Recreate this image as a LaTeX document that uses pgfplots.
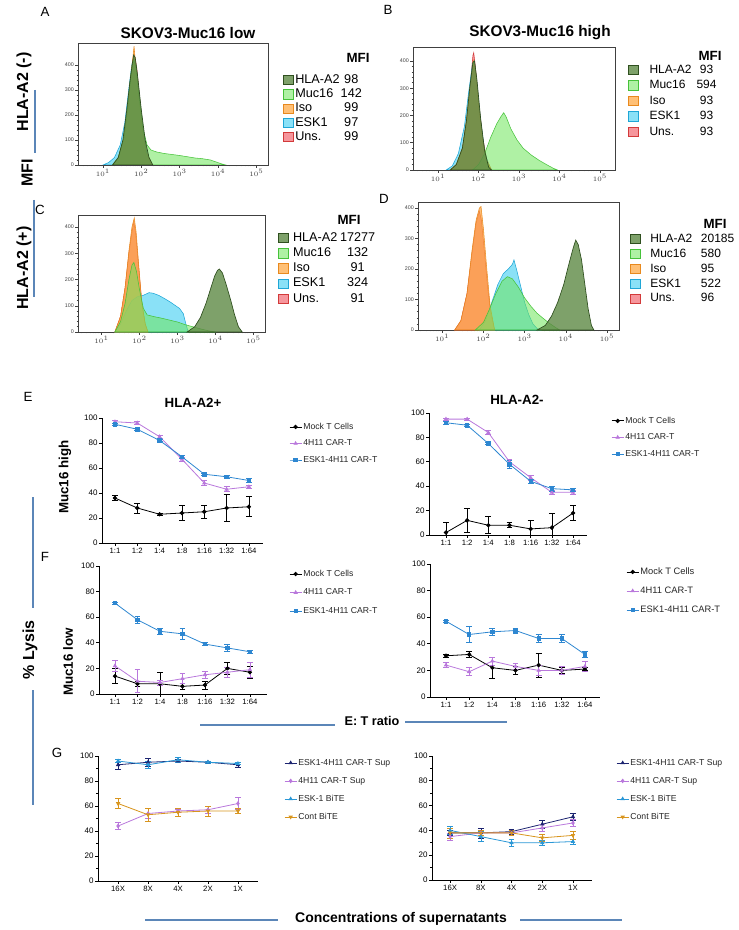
\documentclass[border=0pt]{standalone}
\usepackage{fontspec}
\setmainfont{Liberation Sans}
\usepackage{pgfplots}
\pgfplotsset{compat=1.18}
\definecolor{hgreen}{HTML}{5E8A45}
\definecolor{hgreenD}{HTML}{2F4F1F}
\definecolor{mgreen}{HTML}{6EE65A}
\definecolor{mgreenD}{HTML}{46C23A}
\definecolor{isoO}{HTML}{FFA53C}
\definecolor{isoD}{HTML}{E8891E}
\definecolor{eskC}{HTML}{3CCDF2}
\definecolor{eskD}{HTML}{1FA6D6}
\definecolor{unsR}{HTML}{F0505A}
\definecolor{unsD}{HTML}{D23A3A}
\definecolor{cPur}{HTML}{B978DC}
\definecolor{cBlu}{HTML}{2E87D1}
\definecolor{cNavy}{HTML}{1C2470}
\definecolor{cLBlu}{HTML}{2A97D6}
\definecolor{cOra}{HTML}{D8951E}
\definecolor{lineBlue}{HTML}{5B86B8}
\pgfplotsset{
  hist/.style={scale only axis, anchor=south west, ymin=0, tick align=outside, tick pos=left,
    xtick={1,2,3,4,5}, xticklabels={$10^{1}$,$10^{2}$,$10^{3}$,$10^{4}$,$10^{5}$},
    minor xtick={0.477,0.602,0.699,0.778,0.845,0.903,0.954,1.301,1.477,1.602,1.699,1.778,1.845,1.903,1.954,2.301,2.477,2.602,2.699,2.778,2.845,2.903,2.954,3.301,3.477,3.602,3.699,3.778,3.845,3.903,3.954,4.301,4.477,4.602,4.699,4.778,4.845,4.903,4.954},
    ytick={0,100,200,300,400}, minor y tick num=4,
    major tick length=2pt, minor tick length=1.1pt, tick style={black!75, line width=0.4pt},
    axis line style={black!75, line width=0.5pt},
    ticklabel style={font=\fontsize{4}{4}\selectfont, text=black!75, inner sep=1pt},
    /pgf/number format/assume math mode=true,
    legend cell align=left,
    legend image code/.code={\draw[##1] (0pt,-3.5pt) rectangle (7pt,3.5pt);},
    legend style={draw=none, fill=none, anchor=north west, inner sep=0pt, font=\fontsize{9.5}{10}\selectfont, nodes={inner sep=0.5pt, text height=7pt, text depth=2pt}},
    reverse legend},
  hHLA/.style={fill=hgreen, fill opacity=0.8, draw=hgreenD, line width=0.5pt},
  hMuc/.style={fill=mgreen, fill opacity=0.55, draw=mgreenD, line width=0.4pt},
  hIso/.style={fill=isoO, fill opacity=0.7, draw=isoD, line width=0.4pt},
  hEsk/.style={fill=eskC, fill opacity=0.6, draw=eskD, line width=0.4pt},
  hUns/.style={fill=unsR, fill opacity=0.6, draw=unsD, line width=0.4pt},
  lc/.style={scale only axis, anchor=south west, axis lines*=left, ymin=0, ymax=100, ytick={0,20,40,60,80,100},
    axis line style={line width=0.6pt, black}, tick align=outside, major tick length=2.2pt, minor tick length=1.3pt,
    tick style={black, line width=0.5pt},
    /pgf/number format/assume math mode=true,
    yticklabel style={font=\fontsize{6}{6}\selectfont, inner sep=1pt},
    xticklabel style={font=\fontsize{5.8}{6}\selectfont, inner sep=1.5pt},
    legend cell align=left,
    legend image code/.code={\draw[mark repeat=2,mark phase=2,##1] plot coordinates {(0pt,0pt) (4.5pt,0pt) (9pt,0pt)};},
    legend style={draw=none, fill=none, anchor=north west, inner sep=0pt, font=\fontsize{6.5}{7}\selectfont, nodes={inner sep=1pt, text height=5pt, text depth=1.5pt, text=black!85}},
    clip=false},
  ser/.style={color=#1, line width=0.6pt, mark size=1.3pt, mark options={solid, fill=#1},
    /pgfplots/error bars/y dir=both, /pgfplots/error bars/y explicit,
    /pgfplots/error bars/error bar style={line width=0.5pt, color=#1},
    /pgfplots/error bars/error mark options={rotate=90, mark size=2.2pt, line width=0.5pt, color=#1}},
}
\begin{document}
\begin{tikzpicture}
\path[use as bounding box] (0,0) rectangle (553.5pt,-697.5pt);
% ---------------- A ----------------
\begin{axis}[hist, at={({78*0.75pt},{-165*0.75pt})}, width=142.5pt, height=91.5pt, xmin=0.35, xmax=5.3, ymax=488,
  legend style={at={(1.079,0.754)}, column sep=1pt, row sep=0.7pt}]
\addplot[hUns] coordinates {(1.25,0)(1.4,30)(1.55,110)(1.65,230)(1.72,340)(1.78,420)(1.82,440)(1.88,390)(1.96,260)(2.05,130)(2.15,45)(2.28,0)} \closedcycle;
\addlegendentry{\makebox[34pt][l]{Uns.}\makebox[16pt][c]{99}}
\addplot[hEsk] coordinates {(1.0,0)(1.15,10)(1.3,30)(1.45,80)(1.57,170)(1.67,300)(1.75,400)(1.8,430)(1.86,400)(1.95,270)(2.05,130)(2.15,40)(2.25,0)} \closedcycle;
\addlegendentry{\makebox[34pt][l]{ESK1}\makebox[16pt][c]{97}}
\addplot[hIso] coordinates {(1.25,0)(1.4,30)(1.55,110)(1.65,240)(1.72,350)(1.78,430)(1.81,475)(1.84,420)(1.92,300)(2.02,150)(2.12,50)(2.28,0)} \closedcycle;
\addlegendentry{\makebox[34pt][l]{Iso}\makebox[16pt][c]{99}}
\addplot[hMuc] coordinates {(1.25,0)(1.4,30)(1.55,110)(1.65,230)(1.73,360)(1.8,420)(1.86,390)(1.95,260)(2.05,140)(2.15,80)(2.25,60)(2.4,52)(2.6,46)(2.8,42)(3.0,38)(3.2,33)(3.4,28)(3.6,25)(3.8,20)(3.95,12)(4.1,4)(4.2,0)} \closedcycle;
\addlegendentry{\makebox[34pt][l]{Muc16}\makebox[16pt][c]{142}}
\addplot[hHLA] coordinates {(1.25,0)(1.4,30)(1.52,100)(1.62,220)(1.7,330)(1.76,400)(1.8,440)(1.84,430)(1.9,360)(2.0,220)(2.1,100)(2.2,30)(2.3,0)} \closedcycle;
\addlegendentry{\makebox[34pt][l]{HLA-A2}\makebox[16pt][c]{98}}
\end{axis}
% ---------------- B ----------------
\begin{axis}[hist, at={({413*0.75pt},{-170*0.75pt})}, width=151.5pt, height=92.25pt, xmin=0.38, xmax=5.37, ymax=451,
  legend style={at={(1.064,0.87)}, column sep=8pt, row sep=1.6pt, font=\fontsize{9}{10}\selectfont}]
\addplot[hUns] coordinates {(1.3,0)(1.45,20)(1.6,80)(1.7,180)(1.8,320)(1.86,420)(1.88,430)(1.92,380)(2.0,250)(2.1,120)(2.2,40)(2.32,0)} \closedcycle;
\addlegendentry{\makebox[36pt][l]{Uns.}\makebox[13.5pt][c]{93}}
\addplot[hEsk] coordinates {(1.2,0)(1.35,15)(1.5,60)(1.65,160)(1.75,280)(1.85,390)(1.9,395)(1.97,300)(2.05,180)(2.15,70)(2.28,0)} \closedcycle;
\addlegendentry{\makebox[36pt][l]{ESK1}\makebox[13.5pt][c]{93}}
\addplot[hIso] coordinates {(1.3,0)(1.45,20)(1.6,80)(1.7,180)(1.8,310)(1.87,400)(1.92,370)(2.0,240)(2.1,110)(2.2,35)(2.32,0)} \closedcycle;
\addlegendentry{\makebox[36pt][l]{Iso}\makebox[13.5pt][c]{93}}
\addplot[hMuc] coordinates {(1.85,0)(2.0,20)(2.15,60)(2.3,120)(2.45,170)(2.55,195)(2.62,210)(2.68,195)(2.8,150)(2.95,110)(3.1,80)(3.3,55)(3.5,35)(3.7,18)(3.85,6)(3.95,0)} \closedcycle;
\addlegendentry{\makebox[36pt][l]{Muc16}\makebox[13.5pt][c]{594}}
\addplot[hHLA] coordinates {(1.3,0)(1.45,20)(1.6,80)(1.7,180)(1.78,300)(1.86,395)(1.9,400)(1.96,330)(2.05,190)(2.15,70)(2.25,10)(2.32,0)} \closedcycle;
\addlegendentry{\makebox[36pt][l]{HLA-A2}\makebox[13.5pt][c]{93}}
\end{axis}
% ---------------- C ----------------
\begin{axis}[hist, at={({78*0.75pt},{-332*0.75pt})}, width=140.25pt, height=87.75pt, xmin=0.38, xmax=5.3, ymax=446,
  legend style={at={(1.07,0.863)}, column sep=3pt, row sep=1.4pt}]
\addplot[hUns] coordinates {(1.35,0)(1.5,60)(1.62,170)(1.72,300)(1.8,380)(1.85,420)(1.9,370)(1.98,240)(2.06,110)(2.15,30)(2.22,0)} \closedcycle;
\addlegendentry{\makebox[35pt][l]{Uns.}\makebox[27pt][c]{91}}
\addplot[hEsk] coordinates {(1.35,0)(1.5,30)(1.65,80)(1.8,120)(1.95,135)(2.1,140)(2.25,150)(2.35,148)(2.5,140)(2.65,128)(2.8,115)(2.95,100)(3.05,90)(3.15,70)(3.22,30)(3.28,0)} \closedcycle;
\addlegendentry{\makebox[35pt][l]{ESK1}\makebox[27pt][c]{324}}
\addplot[hIso] coordinates {(1.35,0)(1.5,60)(1.62,170)(1.72,310)(1.8,400)(1.86,435)(1.91,380)(1.98,250)(2.06,110)(2.15,30)(2.22,0)} \closedcycle;
\addlegendentry{\makebox[35pt][l]{Iso}\makebox[27pt][c]{91}}
\addplot[hMuc] coordinates {(1.35,0)(1.5,40)(1.62,110)(1.72,200)(1.8,255)(1.85,265)(1.92,230)(2.0,160)(2.1,90)(2.2,65)(2.4,58)(2.6,52)(2.8,45)(3.0,38)(3.2,28)(3.4,20)(3.6,12)(3.8,5)(4.0,0)} \closedcycle;
\addlegendentry{\makebox[35pt][l]{Muc16}\makebox[27pt][c]{132}}
\addplot[hHLA] coordinates {(3.25,0)(3.45,20)(3.6,55)(3.75,110)(3.88,170)(3.98,215)(4.05,235)(4.1,240)(4.18,225)(4.28,180)(4.4,120)(4.5,65)(4.6,20)(4.7,0)} \closedcycle;
\addlegendentry{\makebox[35pt][l]{HLA-A2}\makebox[27pt][c]{17277}}
\end{axis}
% ---------------- D ----------------
\begin{axis}[hist, at={({418*0.75pt},{-330*0.75pt})}, width=150.75pt, height=96pt, xmin=0.41, xmax=5.29, ymax=420,
  legend style={at={(1.055,0.766)}, column sep=7pt, row sep=1.2pt, font=\fontsize{9}{10}\selectfont}]
\addplot[hUns] coordinates {(1.3,0)(1.45,30)(1.6,120)(1.72,250)(1.82,350)(1.9,390)(1.95,360)(2.02,260)(2.1,140)(2.18,50)(2.27,0)} \closedcycle;
\addlegendentry{\makebox[38pt][l]{Uns.}96}
\addplot[hEsk] coordinates {(1.9,0)(2.05,30)(2.2,90)(2.35,150)(2.48,185)(2.6,200)(2.7,215)(2.74,230)(2.8,200)(2.9,145)(3.0,90)(3.1,50)(3.2,20)(3.3,5)(3.38,0)} \closedcycle;
\addlegendentry{\makebox[38pt][l]{ESK1}522}
\addplot[hIso] coordinates {(1.3,0)(1.45,30)(1.6,120)(1.72,260)(1.82,360)(1.9,400)(1.94,405)(2.0,330)(2.08,200)(2.16,80)(2.27,0)} \closedcycle;
\addlegendentry{\makebox[38pt][l]{Iso}95}
\addplot[hMuc] coordinates {(1.8,0)(2.0,25)(2.15,70)(2.3,120)(2.45,160)(2.58,175)(2.7,168)(2.85,140)(3.0,105)(3.15,78)(3.3,55)(3.45,38)(3.6,22)(3.75,8)(3.85,0)} \closedcycle;
\addlegendentry{\makebox[38pt][l]{Muc16}580}
\addplot[hHLA] coordinates {(3.3,0)(3.5,15)(3.65,45)(3.8,90)(3.95,150)(4.08,220)(4.18,270)(4.24,295)(4.3,280)(4.38,230)(4.46,150)(4.54,70)(4.62,15)(4.68,0)} \closedcycle;
\addlegendentry{\makebox[38pt][l]{HLA-A2}20185}
\end{axis}
% ---------------- E left ----------------
\begin{axis}[lc, at={({102*0.75pt},{-543*0.75pt})}, width=120.75pt, height=93.75pt, xmin=-0.58, xmax=6.63,
  xtick={0,...,6}, xticklabels={1:1,1:2,1:4,1:8,1:16,1:32,1:64},
  legend style={at={(1.161,0.976)}, row sep=3.9pt}]
\addplot[ser=black, mark=*] coordinates {(0,36) +- (0,2) (1,28) +- (0,4) (2,23) +- (0,1) (3,24) +- (0,6) (4,25) +- (0,5) (5,28) +- (0,11) (6,29) +- (0,8)};
\addlegendentry{Mock T Cells}
\addplot[ser=cPur, mark=triangle*] coordinates {(0,97) +- (0,1) (1,96) +- (0,1) (2,85) +- (0,1.5) (3,67) +- (0,1.5) (4,48) +- (0,2) (5,43) +- (0,2) (6,45) +- (0,1.5)};
\addlegendentry{4H11 CAR-T}
\addplot[ser=cBlu, mark=square*] coordinates {(0,95) +- (0,1) (1,91) +- (0,1) (2,82) +- (0,1) (3,69) +- (0,1.5) (4,55) +- (0,1) (5,53) +- (0,1) (6,50) +- (0,1.5)};
\addlegendentry{ESK1-4H11 CAR-T}
\end{axis}
% ---------------- E right ----------------
\begin{axis}[lc, at={({429*0.75pt},{-535*0.75pt})}, width=118.5pt, height=91.5pt, xmin=-0.8, xmax=6.66,
  xtick={0,...,6}, xticklabels={1:1,1:2,1:4,1:8,1:16,1:32,1:64},
  legend style={at={(1.152,0.984)}, row sep=3.9pt}]
\addplot[ser=black, mark=*] coordinates {(0,2) += (0,8) -= (0,2) (1,12) +- (0,10) (2,8) +- (0,7) (3,8) +- (0,2) (4,5) += (0,7) -= (0,5) (5,6) += (0,12) -= (0,6) (6,18) +- (0,6)};
\addlegendentry{Mock T Cells}
\addplot[ser=cPur, mark=triangle*] coordinates {(0,95) +- (0,1) (1,95) +- (0,1) (2,84) +- (0,1.5) (3,60) +- (0,2) (4,47) +- (0,2) (5,35) +- (0,2) (6,35) +- (0,1.5)};
\addlegendentry{4H11 CAR-T}
\addplot[ser=cBlu, mark=square*] coordinates {(0,92) +- (0,1) (1,90) +- (0,1) (2,75) +- (0,1) (3,58) +- (0,3) (4,44) +- (0,2) (5,38) +- (0,2) (6,37) +- (0,1.5)};
\addlegendentry{ESK1-4H11 CAR-T}
\end{axis}
% ---------------- F left ----------------
\begin{axis}[lc, at={({99*0.75pt},{-694*0.75pt})}, width=126pt, height=96pt, xmin=-0.71, xmax=6.76,
  xtick={0,...,6}, xticklabels={1:1,1:2,1:4,1:8,1:16,1:32,1:64},
  legend style={at={(1.131,0.984)}, row sep=5.4pt}]
\addplot[ser=black, mark=*] coordinates {(0,14) +- (0,6) (1,8) +- (0,2) (2,8) += (0,9) -= (0,8) (3,6) +- (0,2) (4,7) +- (0,3) (5,20) +- (0,5) (6,17) +- (0,5)};
\addlegendentry{Mock T Cells}
\addplot[ser=cPur, mark=triangle*] coordinates {(0,22) +- (0,4) (1,10) +- (0,9) (2,9) +- (0,2) (3,12) +- (0,4) (4,15) +- (0,3) (5,17) +- (0,4) (6,19) +- (0,6)};
\addlegendentry{4H11 CAR-T}
\addplot[ser=cBlu, mark=square*] coordinates {(0,71) +- (0,1) (1,58) +- (0,3) (2,49) +- (0,2) (3,47) +- (0,4) (4,39) +- (0,1) (5,36) +- (0,3) (6,33) +- (0,1)};
\addlegendentry{ESK1-4H11 CAR-T}
\end{axis}
% ---------------- F right ----------------
\begin{axis}[lc, at={({430*0.75pt},{-697*0.75pt})}, width=127.5pt, height=99.75pt, xmin=-0.69, xmax=6.65,
  xtick={0,...,6}, xticklabels={1:1,1:2,1:4,1:8,1:16,1:32,1:64},
  legend style={at={(1.153,0.985)}, row sep=5.75pt, font=\fontsize{7}{8}\selectfont}]
\addplot[ser=black, mark=*] coordinates {(0,31) +- (0,1) (1,32) +- (0,2) (2,22) +- (0,8) (3,20) +- (0,3) (4,24) +- (0,9) (5,20) +- (0,2) (6,21) +- (0,1)};
\addlegendentry{Mock T Cells}
\addplot[ser=cPur, mark=triangle*] coordinates {(0,24) +- (0,2) (1,19) +- (0,3) (2,27) +- (0,3) (3,23) +- (0,2) (4,20) +- (0,4) (5,20) +- (0,3) (6,23) +- (0,4)};
\addlegendentry{4H11 CAR-T}
\addplot[ser=cBlu, mark=square*] coordinates {(0,57) +- (0,1) (1,47) +- (0,6) (2,49) +- (0,3) (3,50) +- (0,2) (4,44) +- (0,3) (5,44) +- (0,3) (6,32) +- (0,2)};
\addlegendentry{ESK1-4H11 CAR-T}
\end{axis}
% ---------------- G left ----------------
\begin{axis}[lc, at={({98*0.75pt},{-881*0.75pt})}, width=120pt, height=93.75pt, xmin=-0.67, xmax=4.67,
  xtick={0,...,4}, xticklabels={16X,8X,4X,2X,1X}, minor y tick num=1,
  legend style={at={(1.1625,0.992)}, row sep=5pt, font=\fontsize{6.5}{7}\selectfont}]
\addplot[ser=cNavy, mark=triangle*] coordinates {(0,93) +- (0,4) (1,95) +- (0,3) (2,96) +- (0,1) (3,95) +- (0,1) (4,93) +- (0,2)};
\addlegendentry{ESK1-4H11 CAR-T Sup}
\addplot[ser=cPur, mark=diamond*] coordinates {(0,44) +- (0,3) (1,54) +- (0,4) (2,56) +- (0,1) (3,57) +- (0,3) (4,62) +- (0,5)};
\addlegendentry{4H11 CAR-T Sup}
\addplot[ser=cLBlu, mark=triangle*] coordinates {(0,96) +- (0,1) (1,93) +- (0,3) (2,97) +- (0,2) (3,95) +- (0,1) (4,94) +- (0,1)};
\addlegendentry{ESK-1 BiTE}
\addplot[ser=cOra, mark=triangle*, mark options={rotate=180}] coordinates {(0,62) +- (0,4) (1,53) +- (0,5) (2,55) +- (0,3) (3,56) +- (0,4) (4,56) +- (0,2)};
\addlegendentry{Cont BiTE}
\end{axis}
% ---------------- G right ----------------
\begin{axis}[lc, at={({432*0.75pt},{-880*0.75pt})}, width=120pt, height=93pt, xmin=-0.59, xmax=4.62,
  xtick={0,...,4}, xticklabels={16X,8X,4X,2X,1X}, minor y tick num=1,
  legend style={at={(1.15,0.992)}, row sep=5pt, font=\fontsize{6.5}{7}\selectfont}]
\addplot[ser=cNavy, mark=triangle*] coordinates {(0,38) +- (0,2) (1,38) +- (0,4) (2,39) +- (0,2) (3,45) +- (0,3) (4,51) +- (0,3)};
\addlegendentry{ESK1-4H11 CAR-T Sup}
\addplot[ser=cPur, mark=diamond*] coordinates {(0,35) +- (0,3) (1,38) +- (0,2) (2,38) +- (0,2) (3,42) +- (0,3) (4,46) +- (0,3)};
\addlegendentry{4H11 CAR-T Sup}
\addplot[ser=cLBlu, mark=triangle*] coordinates {(0,40) +- (0,3) (1,35) +- (0,4) (2,30) +- (0,3) (3,30) +- (0,2) (4,31) +- (0,2)};
\addlegendentry{ESK-1 BiTE}
\addplot[ser=cOra, mark=triangle*, mark options={rotate=180}] coordinates {(0,38) +- (0,4) (1,38) +- (0,2) (2,38) +- (0,2) (3,34) +- (0,3) (4,36) +- (0,3)};
\addlegendentry{Cont BiTE}
\end{axis}
% ---------------- text and decorations ----------------
\begin{scope}[x=0.75pt, y=-0.75pt]
\node[font=\fontsize{10}{12}\selectfont] at (45,12) {A};
\node[font=\fontsize{10}{12}\selectfont] at (388,10) {B};
\node[font=\fontsize{10}{12}\selectfont] at (40,210) {C};
\node[font=\fontsize{10}{12}\selectfont] at (384,199) {D};
\node[font=\fontsize{10}{12}\selectfont] at (28,397) {E};
\node[font=\fontsize{10}{12}\selectfont] at (45,557) {F};
\node[font=\fontsize{10}{12}\selectfont] at (57,753) {G};
\node[font=\bfseries\fontsize{11.5}{13}\selectfont] at (188,33) {SKOV3-Muc16 low};
\node[font=\bfseries\fontsize{11.5}{13}\selectfont] at (540,33) {SKOV3-Muc16 high};
\node[font=\bfseries\fontsize{10}{12}\selectfont] at (358,58) {MFI};
\node[font=\bfseries\fontsize{10}{12}\selectfont] at (710,56) {MFI};
\node[font=\bfseries\fontsize{10}{12}\selectfont] at (349,220) {MFI};
\node[font=\bfseries\fontsize{10}{12}\selectfont] at (715,224) {MFI};
\node[rotate=90, font=\bfseries\fontsize{12}{14}\selectfont] at (24,92) {HLA-A2 (-)};
\node[rotate=90, font=\bfseries\fontsize{12}{14}\selectfont] at (27,173) {MFI};
\node[rotate=90, font=\bfseries\fontsize{12}{14}\selectfont] at (24,268) {HLA-A2 (+)};
\draw[lineBlue, line width=0.8pt] (35,90) -- (35,153);
\draw[lineBlue, line width=0.8pt] (34,200) -- (34,297);
\node[font=\bfseries\fontsize{10}{12}\selectfont] at (193,403) {HLA-A2+};
\node[font=\bfseries\fontsize{10}{12}\selectfont] at (517,400) {HLA-A2-};
\node[rotate=90, font=\bfseries\fontsize{10}{12}\selectfont] at (65,477) {Muc16 high};
\node[rotate=90, font=\bfseries\fontsize{10}{12}\selectfont] at (68,662) {Muc16 low};
\node[rotate=90, font=\bfseries\fontsize{12}{14}\selectfont] at (30,650) {\% Lysis};
\draw[lineBlue, line width=0.8pt] (33,497) -- (33,608);
\draw[lineBlue, line width=0.8pt] (33,690) -- (33,805);
\node[font=\bfseries\fontsize{9.5}{11}\selectfont] at (372,721) {E: T ratio};
\draw[lineBlue, line width=0.8pt] (200,725) -- (335,725);
\draw[lineBlue, line width=0.8pt] (405,722) -- (507,722);
\node[font=\bfseries\fontsize{10.5}{12}\selectfont] at (401,919) {Concentrations of supernatants};
\draw[lineBlue, line width=0.8pt] (145,920) -- (278,920);
\draw[lineBlue, line width=0.8pt] (520,920) -- (622,920);
\end{scope}
\end{tikzpicture}
\end{document}
